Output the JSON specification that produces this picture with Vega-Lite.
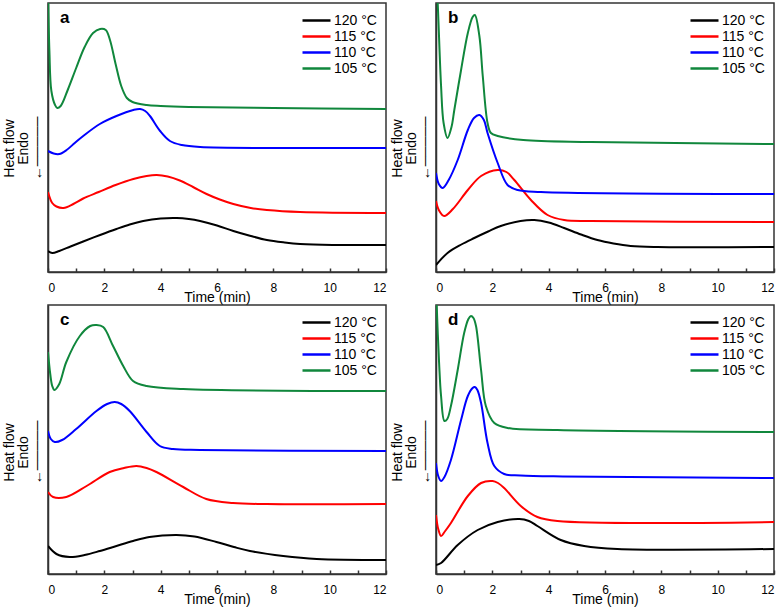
{
  "$schema": "https://vega.github.io/schema/vega-lite/v6.json",
  "padding": {"left": 1, "top": 2, "right": 0, "bottom": 0},
  "background": "white",
  "config": {
    "font": "Liberation Sans",
    "view": {"stroke": "#333", "strokeWidth": 1.5},
    "axis": {"labelFont": "Liberation Sans", "titleFont": "Liberation Sans", "labelColor": "#000", "titleColor": "#000", "grid": false, "domainColor": "#333", "domainWidth": 1.5, "tickColor": "#333", "tickWidth": 1.5, "titleFontWeight": "normal"},
    "legend": {"labelFont": "Liberation Sans", "labelFontSize": 14, "labelColor": "#000", "orient": "top-right", "offset": 9, "padding": 0, "rowPadding": 0, "labelOffset": 2, "symbolStrokeWidth": 2.5, "symbolSize": 196, "symbolType": "M-3,0H1"},
    "title": {"font": "Liberation Sans", "fontSize": 17, "fontWeight": "bold", "color": "#000", "anchor": "start", "frame": "group", "baseline": "alphabetic", "offset": -24, "dx": 12}
  },
  "datasets": {
    "a": [
      {"s":"120 °C","t":0,"v":21},{"s":"120 °C","t":0.15,"v":19},{"s":"120 °C","t":0.4,"v":21},{"s":"120 °C","t":0.8,"v":25.5},{"s":"120 °C","t":1.25,"v":30.5},{"s":"120 °C","t":1.85,"v":37},{"s":"120 °C","t":2.43,"v":43},{"s":"120 °C","t":2.9,"v":47.5},{"s":"120 °C","t":3.38,"v":51},{"s":"120 °C","t":4.0,"v":53.5},{"s":"120 °C","t":4.57,"v":54},{"s":"120 °C","t":5.0,"v":53},{"s":"120 °C","t":5.4,"v":51},{"s":"120 °C","t":6.0,"v":46.5},{"s":"120 °C","t":6.58,"v":41},{"s":"120 °C","t":7.2,"v":36},{"s":"120 °C","t":7.77,"v":32},{"s":"120 °C","t":8.4,"v":29.5},{"s":"120 °C","t":8.95,"v":28},{"s":"120 °C","t":10.1,"v":27},{"s":"120 °C","t":12,"v":27},
      {"s":"115 °C","t":0,"v":80},{"s":"115 °C","t":0.15,"v":69},{"s":"115 °C","t":0.3,"v":65.5},{"s":"115 °C","t":0.55,"v":64},{"s":"115 °C","t":0.9,"v":68},{"s":"115 °C","t":1.25,"v":73.5},{"s":"115 °C","t":1.8,"v":80},{"s":"115 °C","t":2.4,"v":87},{"s":"115 °C","t":3.03,"v":93},{"s":"115 °C","t":3.5,"v":96},{"s":"115 °C","t":3.86,"v":97},{"s":"115 °C","t":4.25,"v":95.5},{"s":"115 °C","t":4.68,"v":91.5},{"s":"115 °C","t":5.15,"v":85},{"s":"115 °C","t":5.63,"v":78},{"s":"115 °C","t":6.1,"v":72.5},{"s":"115 °C","t":6.58,"v":68},{"s":"115 °C","t":7.2,"v":64},{"s":"115 °C","t":7.77,"v":62},{"s":"115 °C","t":8.95,"v":60},{"s":"115 °C","t":12,"v":59},
      {"s":"110 °C","t":0,"v":121},{"s":"110 °C","t":0.2,"v":118.5},{"s":"110 °C","t":0.4,"v":118},{"s":"110 °C","t":0.66,"v":122},{"s":"110 °C","t":0.95,"v":129},{"s":"110 °C","t":1.25,"v":136},{"s":"110 °C","t":1.84,"v":148},{"s":"110 °C","t":2.43,"v":156},{"s":"110 °C","t":3.03,"v":162},{"s":"110 °C","t":3.27,"v":163},{"s":"110 °C","t":3.45,"v":161},{"s":"110 °C","t":3.62,"v":156},{"s":"110 °C","t":3.98,"v":141},{"s":"110 °C","t":4.33,"v":131},{"s":"110 °C","t":4.75,"v":127},{"s":"110 °C","t":5.4,"v":125},{"s":"110 °C","t":8,"v":124},{"s":"110 °C","t":12,"v":124},
      {"s":"105 °C","t":0,"v":285},{"s":"105 °C","t":0.05,"v":221},{"s":"105 °C","t":0.12,"v":181},{"s":"105 °C","t":0.25,"v":167},{"s":"105 °C","t":0.33,"v":164},{"s":"105 °C","t":0.45,"v":166},{"s":"105 °C","t":0.7,"v":182},{"s":"105 °C","t":1.0,"v":204},{"s":"105 °C","t":1.3,"v":225},{"s":"105 °C","t":1.6,"v":239},{"s":"105 °C","t":1.85,"v":243},{"s":"105 °C","t":2.05,"v":242},{"s":"105 °C","t":2.2,"v":232},{"s":"105 °C","t":2.4,"v":208},{"s":"105 °C","t":2.6,"v":186},{"s":"105 °C","t":2.8,"v":174},{"s":"105 °C","t":3.0,"v":170},{"s":"105 °C","t":3.5,"v":167},{"s":"105 °C","t":4,"v":166},{"s":"105 °C","t":5,"v":165},{"s":"105 °C","t":8,"v":164},{"s":"105 °C","t":12,"v":163}
    ],
    "b": [
      {"s":"120 °C","t":0,"v":7},{"s":"120 °C","t":0.41,"v":19},{"s":"120 °C","t":0.9,"v":27.5},{"s":"120 °C","t":1.36,"v":34},{"s":"120 °C","t":1.85,"v":40.5},{"s":"120 °C","t":2.3,"v":46},{"s":"120 °C","t":3.0,"v":51},{"s":"120 °C","t":3.49,"v":52},{"s":"120 °C","t":4.0,"v":49.5},{"s":"120 °C","t":4.55,"v":44},{"s":"120 °C","t":5.15,"v":37.5},{"s":"120 °C","t":5.73,"v":32},{"s":"120 °C","t":6.3,"v":28.5},{"s":"120 °C","t":6.91,"v":26},{"s":"120 °C","t":7.86,"v":25},{"s":"120 °C","t":12,"v":25},
      {"s":"115 °C","t":0,"v":71},{"s":"115 °C","t":0.1,"v":62},{"s":"115 °C","t":0.29,"v":56},{"s":"115 °C","t":0.6,"v":63},{"s":"115 °C","t":1.13,"v":82},{"s":"115 °C","t":1.6,"v":96},{"s":"115 °C","t":2.19,"v":102},{"s":"115 °C","t":2.5,"v":100},{"s":"115 °C","t":2.78,"v":92},{"s":"115 °C","t":3.37,"v":72},{"s":"115 °C","t":3.96,"v":57},{"s":"115 °C","t":4.55,"v":52},{"s":"115 °C","t":5.5,"v":51},{"s":"115 °C","t":12,"v":50},
      {"s":"110 °C","t":0,"v":99},{"s":"110 °C","t":0.1,"v":88},{"s":"110 °C","t":0.24,"v":84},{"s":"110 °C","t":0.45,"v":92},{"s":"110 °C","t":0.77,"v":112},{"s":"110 °C","t":1.13,"v":142},{"s":"110 °C","t":1.35,"v":154},{"s":"110 °C","t":1.54,"v":157},{"s":"110 °C","t":1.7,"v":152},{"s":"110 °C","t":1.83,"v":139},{"s":"110 °C","t":2.19,"v":109},{"s":"110 °C","t":2.54,"v":87},{"s":"110 °C","t":2.9,"v":82},{"s":"110 °C","t":3.72,"v":80},{"s":"110 °C","t":12,"v":78},
      {"s":"105 °C","t":0,"v":300},{"s":"105 °C","t":0.06,"v":269},{"s":"105 °C","t":0.18,"v":186},{"s":"105 °C","t":0.27,"v":149},{"s":"105 °C","t":0.41,"v":134},{"s":"105 °C","t":0.55,"v":145},{"s":"105 °C","t":0.65,"v":162},{"s":"105 °C","t":0.89,"v":202},{"s":"105 °C","t":1.13,"v":239},{"s":"105 °C","t":1.3,"v":255},{"s":"105 °C","t":1.38,"v":257},{"s":"105 °C","t":1.54,"v":236},{"s":"105 °C","t":1.66,"v":196},{"s":"105 °C","t":1.83,"v":149},{"s":"105 °C","t":1.95,"v":139},{"s":"105 °C","t":2.19,"v":136},{"s":"105 °C","t":3.1,"v":132},{"s":"105 °C","t":5.5,"v":130},{"s":"105 °C","t":12,"v":128}
    ],
    "c": [
      {"s":"120 °C","t":0,"v":28},{"s":"120 °C","t":0.3,"v":20},{"s":"120 °C","t":0.77,"v":17},{"s":"120 °C","t":1.3,"v":19},{"s":"120 °C","t":1.84,"v":23},{"s":"120 °C","t":2.43,"v":28},{"s":"120 °C","t":3.02,"v":33},{"s":"120 °C","t":3.6,"v":37},{"s":"120 °C","t":4.56,"v":39},{"s":"120 °C","t":5.2,"v":37.5},{"s":"120 °C","t":5.98,"v":32},{"s":"120 °C","t":6.6,"v":27},{"s":"120 °C","t":7.17,"v":23},{"s":"120 °C","t":8.35,"v":18},{"s":"120 °C","t":9.54,"v":15},{"s":"120 °C","t":12,"v":14},
      {"s":"115 °C","t":0,"v":82},{"s":"115 °C","t":0.18,"v":77},{"s":"115 °C","t":0.65,"v":77},{"s":"115 °C","t":1.37,"v":88},{"s":"115 °C","t":2.19,"v":102},{"s":"115 °C","t":2.7,"v":106},{"s":"115 °C","t":3.14,"v":108},{"s":"115 °C","t":3.5,"v":106},{"s":"115 °C","t":3.85,"v":102},{"s":"115 °C","t":4.8,"v":87},{"s":"115 °C","t":5.62,"v":75},{"s":"115 °C","t":6.57,"v":71},{"s":"115 °C","t":7.76,"v":70},{"s":"115 °C","t":12,"v":70},
      {"s":"110 °C","t":0,"v":143},{"s":"110 °C","t":0.1,"v":135},{"s":"110 °C","t":0.24,"v":132},{"s":"110 °C","t":0.5,"v":134},{"s":"110 °C","t":1.0,"v":145},{"s":"110 °C","t":1.72,"v":163},{"s":"110 °C","t":2.1,"v":170},{"s":"110 °C","t":2.37,"v":172},{"s":"110 °C","t":2.6,"v":170},{"s":"110 °C","t":2.9,"v":163},{"s":"110 °C","t":3.5,"v":142},{"s":"110 °C","t":3.97,"v":128},{"s":"110 °C","t":4.44,"v":125},{"s":"110 °C","t":5.39,"v":124},{"s":"110 °C","t":12,"v":123},
      {"s":"105 °C","t":0,"v":222},{"s":"105 °C","t":0.08,"v":200},{"s":"105 °C","t":0.15,"v":188},{"s":"105 °C","t":0.23,"v":184},{"s":"105 °C","t":0.4,"v":190},{"s":"105 °C","t":0.65,"v":212},{"s":"105 °C","t":1.13,"v":238},{"s":"105 °C","t":1.5,"v":248},{"s":"105 °C","t":1.72,"v":249},{"s":"105 °C","t":1.96,"v":247},{"s":"105 °C","t":2.31,"v":228},{"s":"105 °C","t":2.67,"v":208},{"s":"105 °C","t":3.02,"v":193},{"s":"105 °C","t":3.5,"v":188},{"s":"105 °C","t":4.8,"v":185},{"s":"105 °C","t":12,"v":183}
    ],
    "d": [
      {"s":"120 °C","t":0,"v":9},{"s":"120 °C","t":0.18,"v":11},{"s":"120 °C","t":0.77,"v":29},{"s":"120 °C","t":1.48,"v":44},{"s":"120 °C","t":2.19,"v":52},{"s":"120 °C","t":2.96,"v":55},{"s":"120 °C","t":3.3,"v":53},{"s":"120 °C","t":3.6,"v":48},{"s":"120 °C","t":4.43,"v":34},{"s":"120 °C","t":5.26,"v":28},{"s":"120 °C","t":6.44,"v":25},{"s":"120 °C","t":12,"v":25},
      {"s":"115 °C","t":0,"v":59},{"s":"115 °C","t":0.08,"v":45},{"s":"115 °C","t":0.18,"v":38},{"s":"115 °C","t":0.3,"v":42},{"s":"115 °C","t":0.53,"v":51},{"s":"115 °C","t":1.13,"v":78},{"s":"115 °C","t":1.6,"v":91},{"s":"115 °C","t":2.01,"v":93},{"s":"115 °C","t":2.2,"v":91},{"s":"115 °C","t":2.42,"v":86},{"s":"115 °C","t":3.01,"v":68},{"s":"115 °C","t":3.6,"v":57},{"s":"115 °C","t":4.31,"v":53},{"s":"115 °C","t":12,"v":52},
      {"s":"110 °C","t":0,"v":111},{"s":"110 °C","t":0.08,"v":98},{"s":"110 °C","t":0.18,"v":93},{"s":"110 °C","t":0.3,"v":97},{"s":"110 °C","t":0.53,"v":114},{"s":"110 °C","t":0.89,"v":154},{"s":"110 °C","t":1.13,"v":178},{"s":"110 °C","t":1.3,"v":186},{"s":"110 °C","t":1.38,"v":187},{"s":"110 °C","t":1.47,"v":184},{"s":"110 °C","t":1.6,"v":171},{"s":"110 °C","t":1.83,"v":131},{"s":"110 °C","t":2.07,"v":108},{"s":"110 °C","t":2.42,"v":100},{"s":"110 °C","t":3.0,"v":98.5},{"s":"110 °C","t":4.5,"v":97.5},{"s":"110 °C","t":12,"v":96},
      {"s":"105 °C","t":0,"v":290},{"s":"105 °C","t":0.05,"v":250},{"s":"105 °C","t":0.11,"v":211},{"s":"105 °C","t":0.18,"v":178},{"s":"105 °C","t":0.3,"v":153},{"s":"105 °C","t":0.4,"v":155},{"s":"105 °C","t":0.53,"v":168},{"s":"105 °C","t":0.77,"v":204},{"s":"105 °C","t":1.0,"v":241},{"s":"105 °C","t":1.15,"v":255},{"s":"105 °C","t":1.24,"v":258},{"s":"105 °C","t":1.33,"v":256},{"s":"105 °C","t":1.42,"v":248},{"s":"105 °C","t":1.6,"v":204},{"s":"105 °C","t":1.77,"v":168},{"s":"105 °C","t":2.07,"v":151},{"s":"105 °C","t":2.54,"v":146},{"s":"105 °C","t":4.31,"v":144},{"s":"105 °C","t":12,"v":142}
    ]
  },
  "columns": 2,
  "spacing": {"row": -5, "column": 1},
  "resolve": {"scale": {"x": "independent", "y": "independent", "color": "independent"}, "legend": {"color": "independent"}},
  "concat": [
    {
      "width": 338, "height": 269,
      "data": {"name": "a"},
      "title": {"text": "a"},
      "mark": {"type": "line", "interpolate": "catmull-rom", "strokeWidth": 2, "clip": true},
      "encoding": {
        "x": {"field": "t", "type": "quantitative", "scale": {"domain": [0, 12], "nice": false}, "axis": {"title": "Time (min)", "values": [0,1,2,3,4,5,6,7,8,9,10,11,12], "labelExpr": "datum.value % 2 === 0 ? datum.label : ''", "tickSize": -4, "labelPadding": 14, "labelFontSize": 12, "titleFontSize": 14, "titlePadding": -3}},
        "y": {"field": "v", "type": "quantitative", "scale": {"domain": [0, 269], "nice": false}, "axis": {"title": ["Heat flow", "Endo", "←─────"], "labels": false, "ticks": false, "titleFontSize": 14, "titleLineHeight": 14, "titlePadding": 4, "titleY": 145}},
        "color": {"field": "s", "type": "nominal", "scale": {"domain": ["120 °C", "115 °C", "110 °C", "105 °C"], "range": ["#000000", "#ff0000", "#0000ff", "#10873c"]}, "legend": {"title": null}}
      }
    },
    {
      "width": 338, "height": 269,
      "data": {"name": "b"},
      "title": {"text": "b"},
      "mark": {"type": "line", "interpolate": "catmull-rom", "strokeWidth": 2, "clip": true},
      "encoding": {
        "x": {"field": "t", "type": "quantitative", "scale": {"domain": [0, 12], "nice": false}, "axis": {"title": "Time (min)", "values": [0,1,2,3,4,5,6,7,8,9,10,11,12], "labelExpr": "datum.value % 2 === 0 ? datum.label : ''", "tickSize": -4, "labelPadding": 14, "labelFontSize": 12, "titleFontSize": 14, "titlePadding": -3}},
        "y": {"field": "v", "type": "quantitative", "scale": {"domain": [0, 269], "nice": false}, "axis": {"title": ["Heat flow", "Endo", "←─────"], "labels": false, "ticks": false, "titleFontSize": 14, "titleLineHeight": 14, "titlePadding": 4, "titleY": 145}},
        "color": {"field": "s", "type": "nominal", "scale": {"domain": ["120 °C", "115 °C", "110 °C", "105 °C"], "range": ["#000000", "#ff0000", "#0000ff", "#10873c"]}, "legend": {"title": null}}
      }
    },
    {
      "width": 338, "height": 269,
      "data": {"name": "c"},
      "title": {"text": "c"},
      "mark": {"type": "line", "interpolate": "catmull-rom", "strokeWidth": 2, "clip": true},
      "encoding": {
        "x": {"field": "t", "type": "quantitative", "scale": {"domain": [0, 12], "nice": false}, "axis": {"title": "Time (min)", "values": [0,1,2,3,4,5,6,7,8,9,10,11,12], "labelExpr": "datum.value % 2 === 0 ? datum.label : ''", "tickSize": -4, "labelPadding": 14, "labelFontSize": 12, "titleFontSize": 14, "titlePadding": -3}},
        "y": {"field": "v", "type": "quantitative", "scale": {"domain": [0, 269], "nice": false}, "axis": {"title": ["Heat flow", "Endo", "←─────"], "labels": false, "ticks": false, "titleFontSize": 14, "titleLineHeight": 14, "titlePadding": 4, "titleY": 147}},
        "color": {"field": "s", "type": "nominal", "scale": {"domain": ["120 °C", "115 °C", "110 °C", "105 °C"], "range": ["#000000", "#ff0000", "#0000ff", "#10873c"]}, "legend": {"title": null}}
      }
    },
    {
      "width": 338, "height": 269,
      "data": {"name": "d"},
      "title": {"text": "d"},
      "mark": {"type": "line", "interpolate": "catmull-rom", "strokeWidth": 2, "clip": true},
      "encoding": {
        "x": {"field": "t", "type": "quantitative", "scale": {"domain": [0, 12], "nice": false}, "axis": {"title": "Time (min)", "values": [0,1,2,3,4,5,6,7,8,9,10,11,12], "labelExpr": "datum.value % 2 === 0 ? datum.label : ''", "tickSize": -4, "labelPadding": 14, "labelFontSize": 12, "titleFontSize": 14, "titlePadding": -3}},
        "y": {"field": "v", "type": "quantitative", "scale": {"domain": [0, 269], "nice": false}, "axis": {"title": ["Heat flow", "Endo", "←─────"], "labels": false, "ticks": false, "titleFontSize": 14, "titleLineHeight": 14, "titlePadding": 4, "titleY": 147}},
        "color": {"field": "s", "type": "nominal", "scale": {"domain": ["120 °C", "115 °C", "110 °C", "105 °C"], "range": ["#000000", "#ff0000", "#0000ff", "#10873c"]}, "legend": {"title": null}}
      }
    }
  ]
}
